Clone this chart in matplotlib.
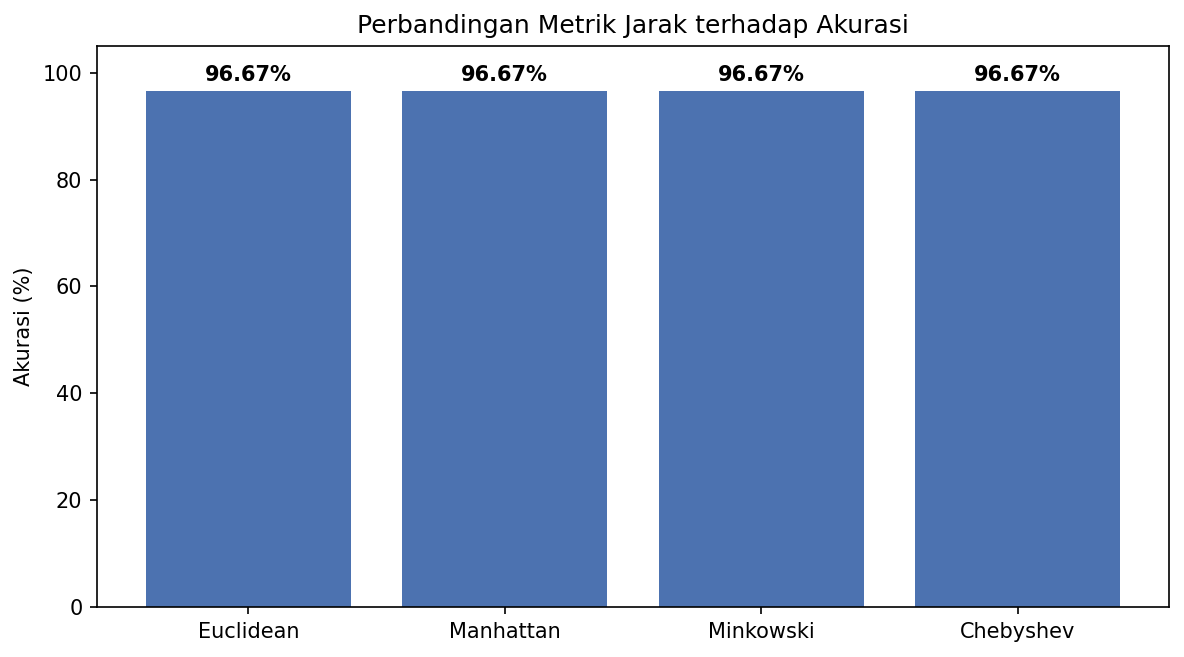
import matplotlib
matplotlib.use("Agg")
import matplotlib.pyplot as plt

metrics = ["Euclidean", "Manhattan", "Minkowski", "Chebyshev"]
accuracy = [96.67, 96.67, 96.67, 96.67]

fig, ax = plt.subplots(figsize=(1184 / 150, 657 / 150), dpi=150)
bars = ax.bar(metrics, accuracy, color="#4C72B0")
for bar, val in zip(bars, accuracy):
    ax.text(bar.get_x() + bar.get_width() / 2, val + 1, f"{val:.2f}%",
            ha="center", va="bottom", fontweight="bold", fontsize=10)
ax.set_ylim(0, 105)
ax.set_ylabel("Akurasi (%)")
ax.set_title("Perbandingan Metrik Jarak terhadap Akurasi")
fig.subplots_adjust(left=97 / 1184, right=1169 / 1184, top=1 - 46 / 657, bottom=1 - 607 / 657)
fig.savefig("out.png", dpi=150)
